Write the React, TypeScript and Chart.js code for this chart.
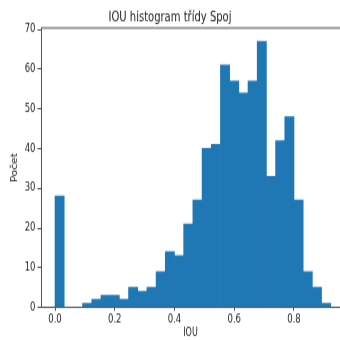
import { useEffect, useRef } from "react";
import { Chart, registerables } from "chart.js";

Chart.register(...registerables);

// Histogram counts per bin (30 equal bins between iouMin and iouMax)
const counts = [28, 0, 0, 1, 2, 3, 3, 2, 5, 4, 5, 9, 14, 13, 21, 27, 40, 41, 61, 57, 54, 57, 67, 33, 42, 48, 27, 9, 5, 1];
const iouMin = 0;
const iouMax = 0.923;
const xTicks = [0, 0.2, 0.4, 0.6, 0.8];
const yTicks = [0, 10, 20, 30, 40, 50, 60, 70];
const titleText = "IOU histogram třídy Spoj";
const xLabel = "IOU";
const yLabel = "Počet";

export default function App() {
  const ref = useRef<HTMLCanvasElement>(null);

  useEffect(() => {
    document.body.style.margin = "0";
    const binW = (iouMax - iouMin) / counts.length;
    const data = counts.map((c, i) => ({ x: iouMin + (i + 0.5) * binW, y: c }));
    const axisColor = "#555";
    const textColor = "#222";
    const family = "'DejaVu Sans', sans-serif";

    const topSpine = {
      id: "topSpine",
      afterDraw(chart: any) {
        const { ctx, chartArea } = chart;
        ctx.save();
        ctx.strokeStyle = axisColor;
        ctx.lineWidth = 1;
        ctx.beginPath();
        ctx.moveTo(chartArea.left, chartArea.top);
        ctx.lineTo(chartArea.right, chartArea.top);
        ctx.stroke();
        ctx.restore();
      },
    };

    const chart = new Chart(ref.current as HTMLCanvasElement, {
      type: "bar",
      data: {
        datasets: [
          {
            data: data as any,
            backgroundColor: "#1f77b4",
            borderWidth: 0,
            barPercentage: 1,
            categoryPercentage: 1,
          },
        ],
      },
      options: {
        animation: false,
        responsive: false,
        devicePixelRatio: 1,
        layout: { padding: 0 },
        plugins: {
          legend: { display: false },
          tooltip: { enabled: false },
          title: {
            display: true,
            text: titleText,
            color: textColor,
            font: { family, size: 10, weight: "normal" },
            padding: { top: 7.7, bottom: 1.3 },
          },
        },
        scales: {
          x: {
            type: "linear",
            offset: false,
            min: -0.0469,
            max: 0.954,
            afterBuildTicks: (scale: any) => {
              scale.ticks = xTicks.map((v) => ({ value: v }));
            },
            afterFit: (scale: any) => {
              scale.height = 24.4;
            },
            ticks: {
              color: textColor,
              font: { family, size: 8.5 },
              padding: 1,
              maxRotation: 0,
              autoSkip: false,
              callback: (v: any) => Number(v).toFixed(1),
            },
            grid: {
              display: true,
              offset: false,
              drawOnChartArea: false,
              drawTicks: true,
              tickLength: 2.6,
              color: axisColor,
            },
            border: { display: true, color: axisColor, width: 1 },
            title: {
              display: true,
              text: xLabel,
              color: textColor,
              font: { family, size: 8 },
              padding: { top: 0, bottom: 0.2 },
            },
          },
          y: {
            type: "linear",
            min: 0,
            max: 70.35,
            afterBuildTicks: (scale: any) => {
              scale.ticks = yTicks.map((v) => ({ value: v }));
            },
            afterFit: (scale: any) => {
              scale.width = 41;
            },
            ticks: {
              color: textColor,
              font: { family, size: 8.5 },
              padding: 2,
              autoSkip: false,
            },
            grid: {
              display: true,
              drawOnChartArea: false,
              drawTicks: true,
              tickLength: 3.5,
              color: axisColor,
            },
            border: { display: true, color: axisColor, width: 1 },
            title: {
              display: true,
              text: yLabel,
              color: textColor,
              font: { family, size: 8 },
              padding: { top: 10.2, bottom: 0 },
            },
          },
        },
      },
      plugins: [topSpine],
    });
    return () => chart.destroy();
  }, []);

  return (
    <div style={{ width: 340, height: 340, overflow: "hidden", background: "#fff" }}>
      <div style={{ width: 340, height: 255, transform: "scaleY(1.333333)", transformOrigin: "0 0" }}>
        <canvas ref={ref} width={340} height={255} />
      </div>
    </div>
  );
}
